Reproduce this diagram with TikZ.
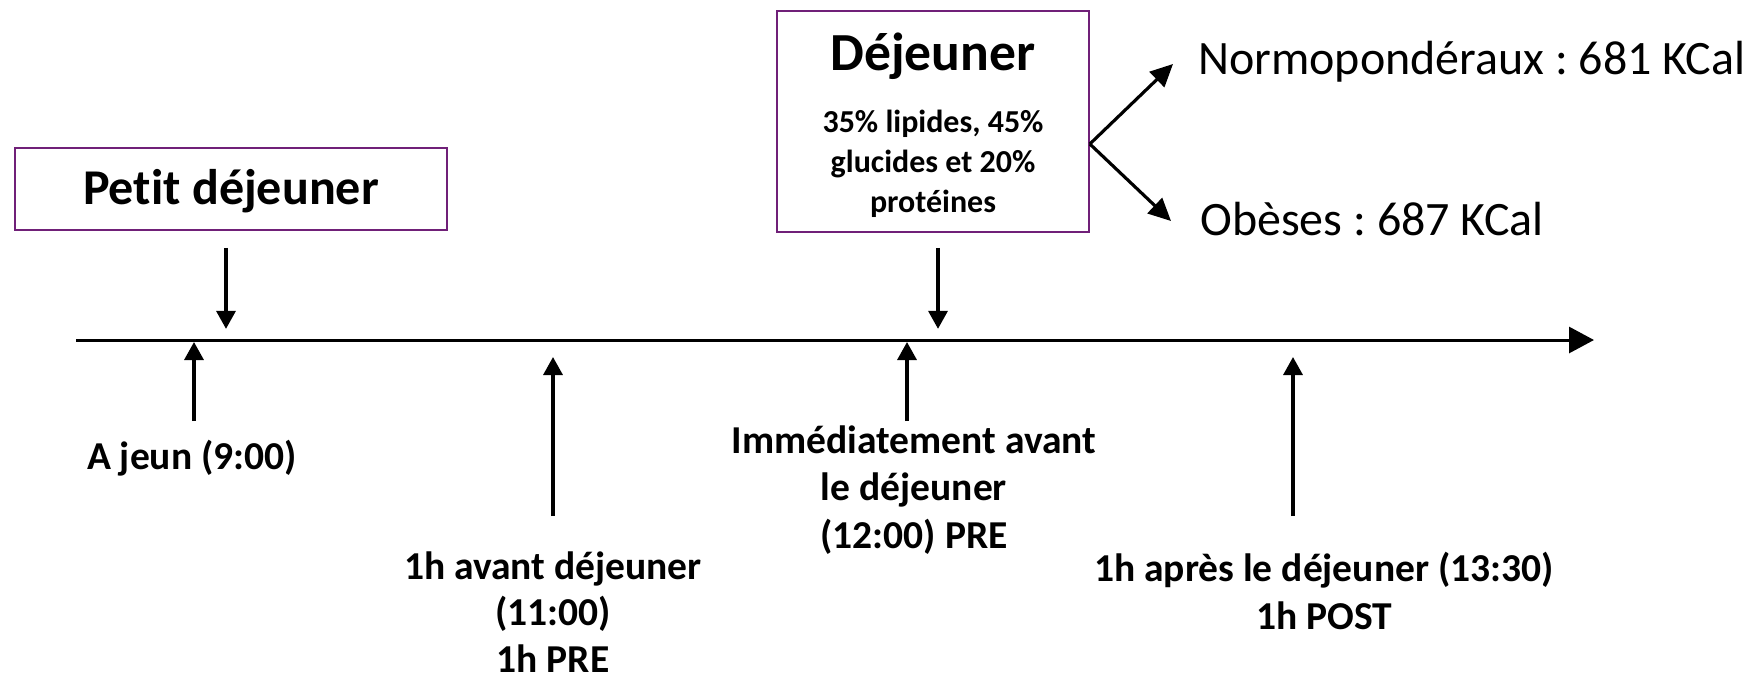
\documentclass[tikz,border=0pt]{standalone}
\usepackage{fontspec}
\setmainfont{Carlito}[Ligatures=NoCommon]
\frenchspacing
\usetikzlibrary{arrows.meta,positioning}
\definecolor{boxpurple}{RGB}{112,32,120}
\colorlet{myink}{black}

\begin{document}
\begin{tikzpicture}[
  x=0.02cm, y=-0.02cm,
  meal/.style ={draw=boxpurple, line width=1pt, fill=white, inner sep=0pt},
  head/.style ={font=\bfseries\fontsize{28.5}{34}\selectfont, text=myink},
  big/.style  ={font=\bfseries\fontsize{30.5}{36}\selectfont, text=myink},
  sub/.style  ={font=\bfseries\fontsize{18.2}{22.8}\selectfont, text=myink, align=center},
  kcal/.style ={font=\fontsize{27.3}{32}\selectfont, text=myink, anchor=west, inner sep=0pt},
  lab/.style  ={font=\bfseries\fontsize{22.5}{27}\selectfont, text=myink, align=center},
  axis/.style ={draw=myink, line width=1.7pt, -{Triangle[length=0.5cm,width=0.52cm]}},
  tick/.style ={draw=myink, line width=1.9pt, -{Triangle[length=0.36cm,width=0.38cm]}},
  fork/.style ={draw=myink, line width=1.8pt, -{Triangle[length=0.45cm,width=0.42cm]}},
]
\useasboundingbox (0,0) rectangle (1760,673);

% ==================================================== the day, left to right
\coordinate (tstart) at (76,340);
\coordinate (tend)   at (1594,340);
\draw[axis] (tstart) -- (tend);

% ==================================================== the two meals above the line
\node[meal, minimum width=8.64cm, minimum height=1.64cm] (petit) at (231,189) {};
\node[head] (petittxt) at (231,191) {Petit déjeuner};
\draw[tick] ([shift={(-5,17)}]petit.south) -- ++(0,81);

\node[meal, minimum width=6.24cm, minimum height=4.42cm] (dej) at (933,121.5) {};
\node[big] (dejtxt) at (933,56) {Déjeuner};
\node[sub] (dejsub) at (933,164) {35\% lipides, 45\%\\glucides et 20\%\\protéines};
\draw[tick] ([shift={(5,15)}]dej.south) -- ++(0,81);

% lunch energy splits by group
\coordinate (split) at ([shift={(0,22.5)}]dej.east);
\node[kcal] (normo) at (1198,62)  {Normopondéraux : 681 KCal};
\node[kcal] (obese) at (1200,219) {Obèses : 687 KCal};
\coordinate (normotip) at (1173,64);
\coordinate (obesetip) at (1171,221);
\draw[fork] (split) -- (normotip);
\draw[fork] (split) -- (obesetip);

% ==================================================== sampling times below the line
\node[lab] (ajeun) at (192,458) {A jeun (9:00)};
\draw[tick] ([shift={(2,-37)}]ajeun.center) -- ++(0,-79);

\node[lab, font=\bfseries\fontsize{22.5}{26.5}\selectfont] (avant) at (553,612)
  {1h avant déjeuner\\(11:00)\\1h PRE};
\draw[tick] ([shift={(0,-96)}]avant.center) -- ++(0,-159);

\node[lab] (immed) at (914,490) {Immédiatement avant\\le déjeuner\\(12:00) PRE};
\draw[tick] ([shift={(-7,-69)}]immed.center) -- ++(0,-79);

\node[lab] (apres) at (1324,591) {1h après le déjeuner (13:30)\\1h POST};
\draw[tick] ([shift={(-31,-75)}]apres.center) -- ++(0,-159);

\end{tikzpicture}
\end{document}
